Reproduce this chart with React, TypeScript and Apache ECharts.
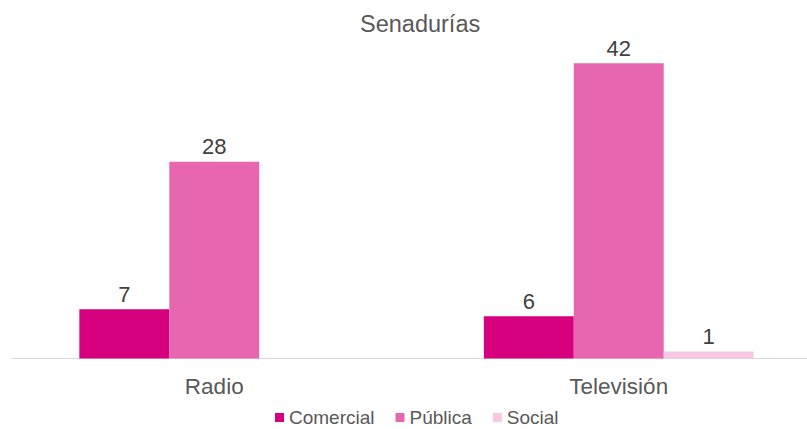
import React, { useEffect, useRef } from "react";
import * as echarts from "echarts";

const categories = ["Radio", "Televisión"];
const comercial = [7, 6];
const publica = [28, 42];
const social: (number | null)[] = [null, 1];
const seriesNames = ["Comercial", "Pública", "Social"];
const colors = ["#D6007F", "#E667B0", "#F6C8E1"];

export default function App() {
  const ref = useRef<HTMLDivElement>(null);
  useEffect(() => {
    document.body.style.margin = "0";
    const chart = echarts.init(ref.current!, null, { renderer: "svg" });
    const font = "'Liberation Sans', Arial, sans-serif";
    const label = {
      show: true,
      position: "top",
      distance: 4,
      color: "#404040",
      fontSize: 22,
      fontFamily: font,
    };
    const data = [comercial, publica, social];
    chart.setOption({
      animation: false,
      title: {
        text: "Senadurías",
        left: 355,
        top: 7,
        textStyle: { color: "#595959", fontSize: 23.5, fontWeight: "normal", fontFamily: font },
      },
      legend: {
        data: seriesNames,
        left: 275,
        top: 408,
        padding: 0,
        itemWidth: 9,
        itemHeight: 9,
        itemGap: 21,
        icon: "rect",
        textStyle: { color: "#595959", fontSize: 19, lineHeight: 16, fontFamily: font },
      },
      grid: { left: 12, width: 809, top: 7, height: 351.5 },
      xAxis: {
        type: "category",
        data: categories,
        axisTick: { show: false },
        axisLine: { lineStyle: { color: "#D9D9D9", width: 1 } },
        axisLabel: { color: "#595959", fontSize: 22.5, fontFamily: font, margin: 16 },
      },
      yAxis: {
        type: "value",
        min: 0,
        max: 50,
        show: false,
        splitLine: { show: false },
      },
      series: seriesNames.map((name, i) => ({
        name,
        type: "bar",
        data: data[i],
        barGap: "0%",
        barCategoryGap: "33.3%",
        itemStyle: { color: colors[i] },
        label,
      })),
    });
    return () => chart.dispose();
  }, []);
  return (
    <div style={{ width: 807, height: 429, overflow: "hidden", position: "relative" }}>
      <div ref={ref} style={{ width: 830, height: 429 }} />
    </div>
  );
}
